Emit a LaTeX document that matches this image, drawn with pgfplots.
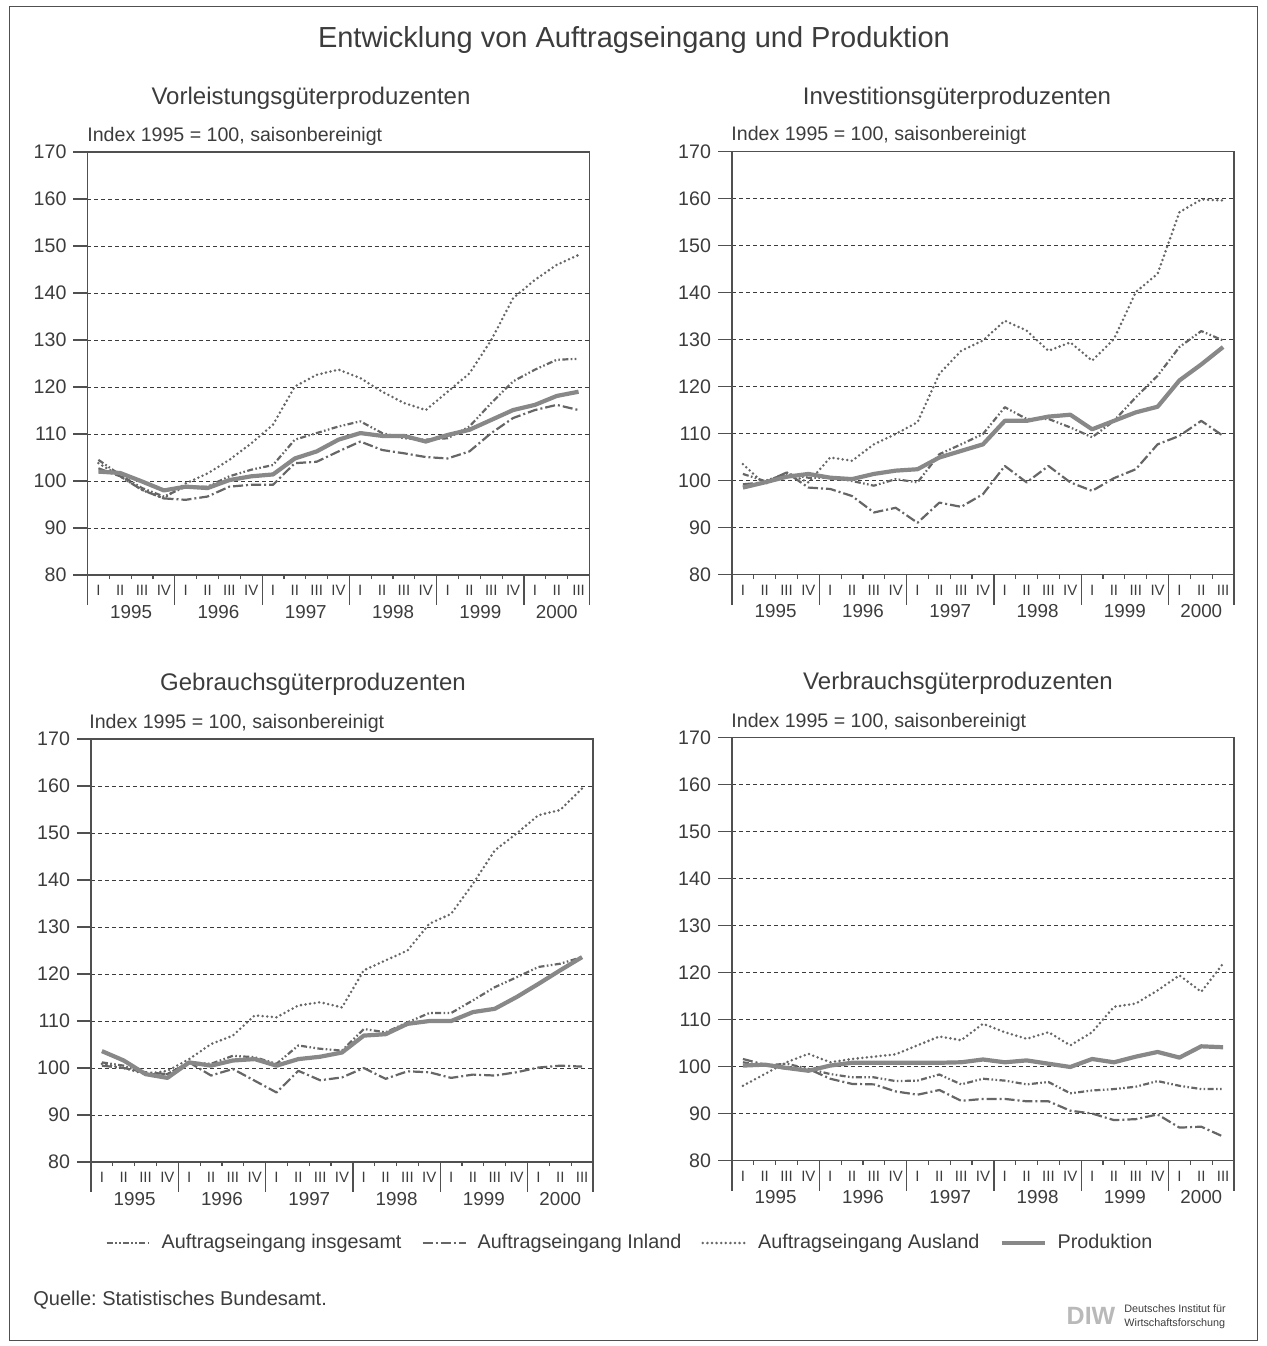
\documentclass[border=0pt]{standalone}
\usepackage{fontspec}
\setmainfont{Liberation Sans}
\usepackage{pgfplots}
\usepackage{pgfplotstable}
\pgfplotsset{compat=1.18}
\frenchspacing
\definecolor{txt}{HTML}{3C3C3C}
\definecolor{axisc}{HTML}{505050}
\definecolor{serc}{HTML}{666666}
\definecolor{prodc}{HTML}{888888}

% q ins inl aus prod
\pgfplotstableread{
q ins inl aus prod
0 104.5 102.7 103.8 102.0
1 101.3 101.0 101.0 101.7
2 98.5 98.1 98.1 99.9
3 96.7 96.3 96.3 98.0
4 98.8 96.0 99.5 98.8
5 98.8 96.7 101.6 98.5
6 101.0 98.8 104.5 100.2
7 102.4 99.2 108.0 101.0
8 103.4 99.2 112.0 101.4
9 108.8 103.8 120.1 104.8
10 110.2 104.1 122.6 106.3
11 111.6 106.3 123.7 108.8
12 112.7 108.4 121.9 110.2
13 110.2 106.6 119.0 109.6
14 109.1 105.9 116.6 109.6
15 108.8 105.1 115.1 108.4
16 109.1 104.8 119.0 109.8
17 111.6 106.3 122.9 110.9
18 116.6 110.2 130.0 113.0
19 121.2 113.4 138.9 115.1
20 123.7 115.1 142.8 116.2
21 125.8 116.2 146.0 118.1
22 126.0 115.1 148.1 119.0
}\dataA
\pgfplotstableread{
q ins inl aus prod
0 101.4 99.2 103.5 98.5
1 99.9 99.6 99.2 99.6
2 101.4 101.7 101.7 100.8
3 100.6 98.5 99.6 101.4
4 100.6 98.2 104.9 100.6
5 99.9 96.7 104.2 100.3
6 98.9 93.2 107.7 101.4
7 100.3 94.2 109.9 102.1
8 99.6 91.0 112.4 102.4
9 105.6 95.3 122.7 104.9
10 107.7 94.4 127.6 106.3
11 109.9 97.1 129.8 107.7
12 115.6 103.1 134.0 112.7
13 113.1 99.6 131.9 112.7
14 113.1 103.1 127.6 113.6
15 111.3 99.6 129.4 114.0
16 109.2 97.8 125.5 110.9
17 112.7 100.5 130.1 112.7
18 117.7 102.4 140.1 114.5
19 122.3 107.7 144.0 115.7
20 128.4 109.5 157.1 121.3
21 131.8 112.7 159.8 124.7
22 129.8 109.5 159.6 128.4
}\dataB
\pgfplotstableread{
q ins inl aus prod
0 101.2 100.5 100.9 103.6
1 100.5 100.0 100.0 101.6
2 98.7 99.1 98.7 98.7
3 98.7 98.7 99.4 97.9
4 101.2 101.2 101.9 101.2
5 100.9 98.4 105.1 100.5
6 102.6 99.8 106.9 101.6
7 102.3 97.3 111.2 101.9
8 100.9 94.8 110.8 100.5
9 104.8 99.4 113.3 101.9
10 104.1 97.4 114.0 102.4
11 103.7 98.0 112.9 103.3
12 108.3 100.0 120.8 106.9
13 107.6 97.7 122.9 107.2
14 109.7 99.3 125.0 109.4
15 111.7 99.1 130.7 110.0
16 111.7 97.9 132.8 110.0
17 114.4 98.6 139.2 111.9
18 117.2 98.4 146.3 112.6
19 119.3 99.1 149.9 115.1
20 121.5 100.1 153.8 117.9
21 122.2 100.5 154.9 120.8
22 123.6 100.3 159.5 123.6
}\dataC
\pgfplotstableread{
q ins inl aus prod
0 100.9 101.6 95.9 100.2
1 100.2 100.4 98.4 100.4
2 100.6 99.5 100.9 99.7
3 99.5 99.5 102.7 99.1
4 98.4 97.4 100.9 100.2
5 97.7 96.3 101.6 100.8
6 97.7 96.2 102.1 100.8
7 96.9 94.7 102.6 100.8
8 97.0 94.0 104.5 100.8
9 98.3 95.0 106.4 100.8
10 96.2 92.7 105.6 100.9
11 97.4 93.1 109.1 101.5
12 97.0 93.1 107.3 100.9
13 96.2 92.6 105.9 101.3
14 96.7 92.6 107.3 100.6
15 94.3 90.6 104.5 99.9
16 94.9 90.0 107.3 101.6
17 95.2 88.6 112.7 100.9
18 95.7 88.8 113.4 102.1
19 96.9 89.8 116.2 103.1
20 95.9 87.0 119.4 101.9
21 95.2 87.2 115.9 104.3
22 95.2 85.1 121.9 104.1
}\dataD

\pgfplotsset{
  panel/.style={
    scale only axis, width=251pt, height=211.5pt, anchor=south west,
    xmin=-0.5, xmax=22.5, ymin=80, ymax=170,
    ytick={80,90,...,170},
    xtick={0,...,22},
    xticklabels={I,II,III,IV,I,II,III,IV,I,II,III,IV,I,II,III,IV,I,II,III,IV,I,II,III},
    minor xtick={0.5,1.5,...,21.5},
    ymajorgrids,
    grid style={txt, line width=0.5pt, dash pattern=on 2pt off 1.5pt},
    axis line style={axisc, line width=0.6pt},
    tick align=outside, ytick pos=left, xtick pos=bottom,
    major tick length=7pt, minor tick length=2pt,
    tick style={axisc, line width=0.6pt},
    major x tick style={draw=none},
    yticklabel style={font=\fontsize{9.8}{10}\selectfont, text=txt},
    xticklabel style={font=\fontsize{7.5}{8}\selectfont, text=txt, anchor=center, yshift=-0.8pt},
    extra x ticks={1.5,5.5,9.5,13.5,17.5,21},
    extra x tick labels={1995,1996,1997,1998,1999,2000},
    extra x tick style={xticklabel style={font=\fontsize{9.4}{10}\selectfont, yshift=-10.5pt}},
    clip=false,
    /pgf/number format/assume math mode=true,
    /pgf/number format/1000 sep={},
    no markers,
    every axis plot/.append style={line join=round},
  },
  ins/.style={serc, line width=1.1pt, dash pattern=on 3pt off 1.2pt on 0.8pt off 1.2pt on 0.8pt off 1.2pt},
  inl/.style={serc, line width=1.1pt, dash pattern=on 5pt off 1.5pt on 1pt off 1.5pt},
  aus/.style={serc, line width=1.4pt, line cap=round, dash pattern=on 0pt off 2.3pt},
  prod/.style={prodc, line width=2.1pt},
}
\newcommand{\onesep}[1]{\draw[axisc, line width=0.6pt] (axis cs:#1,80) -- ([yshift=-15pt]axis cs:#1,80);}
\newcommand{\seps}{%
  \onesep{-0.5}\onesep{3.5}\onesep{7.5}\onesep{11.5}\onesep{15.5}\onesep{19.5}\onesep{22.5}%
}
\newcommand{\series}[1]{%
  \addplot[ins] table[x=q,y=ins] {#1};
  \addplot[inl] table[x=q,y=inl] {#1};
  \addplot[aus] table[x=q,y=aus] {#1};
  \addplot[prod] table[x=q,y=prod] {#1};
}

\begin{document}
\begin{tikzpicture}[x=0.5pt,y=-0.5pt]
\path[use as bounding box] (0,0) rectangle (1266,1346);
\draw[axisc, line width=0.5pt] (9,6) rectangle (1257,1340);

\node[text=txt, font=\fontsize{14.5}{16}\selectfont] at (634,40) {Entwicklung von Auftragseingang und Produktion};

\node[text=txt, font=\fontsize{12}{14}\selectfont] at (311,98) {Vorleistungsgüterproduzenten};
\node[text=txt, font=\fontsize{12}{14}\selectfont] at (957,98) {Investitionsgüterproduzenten};
\node[text=txt, font=\fontsize{12}{14}\selectfont] at (313,684) {Gebrauchsgüterproduzenten};
\node[text=txt, font=\fontsize{12}{14}\selectfont] at (958,683) {Verbrauchsgüterproduzenten};

\node[text=txt, font=\fontsize{9.8}{10}\selectfont, anchor=west, inner sep=0pt] at (87,136) {Index 1995 = 100, saisonbereinigt};
\node[text=txt, font=\fontsize{9.8}{10}\selectfont, anchor=west, inner sep=0pt] at (731,135) {Index 1995 = 100, saisonbereinigt};
\node[text=txt, font=\fontsize{9.8}{10}\selectfont, anchor=west, inner sep=0pt] at (89,723) {Index 1995 = 100, saisonbereinigt};
\node[text=txt, font=\fontsize{9.8}{10}\selectfont, anchor=west, inner sep=0pt] at (731,722) {Index 1995 = 100, saisonbereinigt};

\begin{axis}[panel, at={(43.75pt,-287.5pt)}]
\series{\dataA}
\seps
\end{axis}

\begin{axis}[panel, at={(366pt,-287.25pt)}]
\series{\dataB}
\seps
\end{axis}

\begin{axis}[panel, at={(45.5pt,-581pt)},
  legend style={at={(0.0279,-0.1915)}, anchor=west, draw=none, fill=none, inner sep=0pt,
    font=\fontsize{9.9}{10}\selectfont, text=txt,
    /tikz/every odd column/.append style={column sep=3.5pt},
    /tikz/every even column/.append style={column sep=8pt}},
  legend columns=4, legend cell align=left,
  legend image code/.code={\draw[#1] (0pt,0pt) -- (21.5pt,0pt);}]
\series{\dataC}
\legend{Auftragseingang insgesamt, Auftragseingang Inland, Auftragseingang Ausland, Produktion}
\seps
\end{axis}

\begin{axis}[panel, at={(366pt,-580.25pt)}]
\series{\dataD}
\seps
\end{axis}

\node[text=txt, font=\fontsize{10}{12}\selectfont, anchor=west, inner sep=0pt] at (33,1300) {Quelle: Statistisches Bundesamt.};
\node[text=gray!55, font=\fontsize{12.5}{13}\selectfont\bfseries, inner sep=0pt] at (1091,1316) {DIW};
\node[text=txt, font=\fontsize{5.4}{5.6}\selectfont\addfontfeatures{Kerning=Off,Ligatures=NoCommon}, anchor=west, inner sep=0pt] at (1124,1309) {Deutsches Institut für};
\node[text=txt, font=\fontsize{5.4}{5.6}\selectfont\addfontfeatures{Kerning=Off,Ligatures=NoCommon}, anchor=west, inner sep=0pt] at (1124,1324) {Wirtschaftsforschung};
\end{tikzpicture}
\end{document}
